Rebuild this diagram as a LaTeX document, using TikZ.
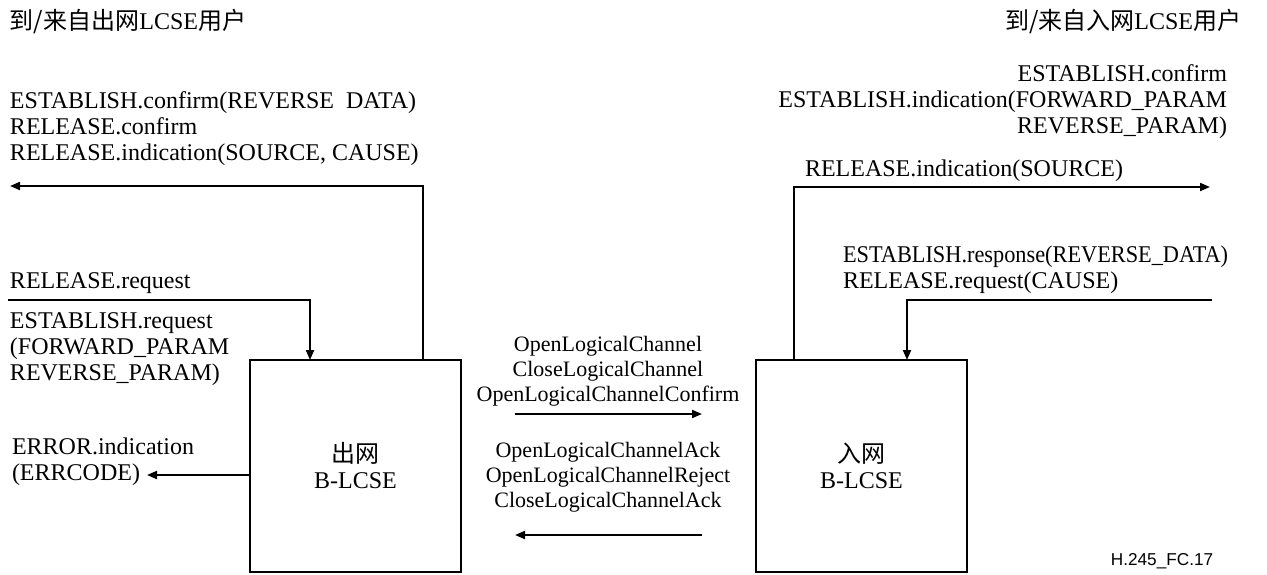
\documentclass[tikz,border=0pt]{standalone}
\usepackage{fontspec}
\usepackage{graphicx}
\setmainfont{Liberation Serif}
\newfontfamily\cjk{Noto Sans CJK SC}
\newfontfamily\figsans{Liberation Sans}
\usetikzlibrary{arrows.meta,calc}
\begin{document}
\begin{tikzpicture}[x=0.5pt,y=-0.5pt,
  every node/.style={inner sep=0pt,outer sep=0pt,font=\fontsize{12}{13}\selectfont},
  lbl/.style={anchor=west,align=left},
  rlbl/.style={anchor=east,align=right},
  clbl/.style={align=center,font=\fontsize{11}{12.5}\selectfont},
  box/.style={draw,line width=1pt,minimum width=105.5pt,minimum height=106pt,align=center},
  arr/.style={line width=1pt,-{Triangle[length=5pt,width=4pt]}}]
\useasboundingbox (0,0) rectangle (1267,574);

% boxes
\node[box] (L) at (355.5,466) {{\cjk 出网}\\B-LCSE};
\node[box] (R) at (861.5,466) {{\cjk 入网}\\B-LCSE};

% titles
\node[lbl] (tl) at (10,22) {{\cjk 到/来自出网}LCSE{\cjk 用户}};
\node[lbl] (tr) at (1005,22) {{\cjk 到/来自入网}LCSE{\cjk 用户}};

% left labels
\node[lbl] (lconf) at (10,129) {ESTABLISH.confirm(REVERSE\phantom{\_}DATA)\\RELEASE.confirm\\RELEASE.indication(SOURCE, CAUSE)};
\node[lbl] (lrel) at (10,283) {RELEASE.request};
\node[lbl] (lest) at (10,349) {ESTABLISH.request\\(FORWARD\_PARAM\\REVERSE\_PARAM)};
\node[lbl] (lerr) at (12,462) {ERROR.indication\\(ERRCODE)};

% middle labels
\node[clbl] (m1) at (608,371) {OpenLogicalChannel\\CloseLogicalChannel\\OpenLogicalChannelConfirm};
\node[clbl] (m2) at (608,477) {OpenLogicalChannelAck\\OpenLogicalChannelReject\\CloseLogicalChannelAck};

% right labels
\node[rlbl] (rconf) at (1227,102) {ESTABLISH.confirm\\ESTABLISH.indication(FORWARD\_PARAM\\REVERSE\_PARAM)};
\node[lbl] (rind) at (805,171) {RELEASE.indication(SOURCE)};
\node[lbl] (rresp) at (843,270) {\scalebox{0.93}[1]{ESTABLISH.response(REVERSE\_DATA)}\\RELEASE.request(CAUSE)};

\node[font=\figsans\fontsize{8.6}{10}\selectfont] (fig) at (1162,561) {H.245\_FC.17};

% coordinates for free ends
\coordinate (lout) at (10,186);
\coordinate (lin) at (8,300);
\coordinate (lerrend) at (147,475);
\coordinate (m1a) at (515,414);
\coordinate (m1b) at (702,414);
\coordinate (m2a) at (702,535);
\coordinate (m2b) at (515,535);
\coordinate (rout) at (1210,187);
\coordinate (rin) at (1212,300);

% connectors
\draw[arr] ($(L.north west)+(173,0)$) |- (lout);
\draw[arr] (lin) -| ($(L.north west)+(60,0)$);
\draw[arr] (L.west |- lerrend) -- (lerrend);
\draw[arr] (m1a) -- (m1b);
\draw[arr] (m2a) -- (m2b);
\draw[arr] ($(R.north west)+(38,0)$) |- (rout);
\draw[arr] (rin) -| ($(R.north west)+(151,0)$);
\end{tikzpicture}
\end{document}
